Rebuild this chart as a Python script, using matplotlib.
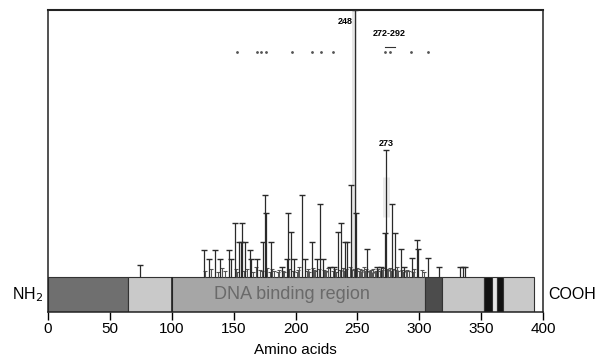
import matplotlib.pyplot as plt

plt.rcParams['font.family'] = ['Liberation Sans', 'DejaVu Sans']

# major mutation peaks: codon and relative height
peak_codons = [74, 126, 130, 135, 139, 146, 148, 151, 154, 156, 157, 159, 163, 164,
               169, 174, 175, 176, 180, 189, 193, 194, 196, 199, 205, 208, 213, 217,
               220, 222, 228, 231, 234, 237, 240, 242, 245, 248, 249, 258, 266, 269,
               272, 273, 278, 280, 285, 288, 294, 298, 299, 307, 316, 333, 335, 337]
peak_heights = [12, 27, 18, 27, 18, 27, 18, 54, 35, 35, 54, 35, 27, 18,
                18, 35, 82, 64, 35, 10, 18, 64, 45, 18, 82, 18, 35, 18,
                73, 18, 10, 10, 45, 54, 35, 35, 92, 267, 64, 28, 10, 10,
                44, 127, 73, 44, 28, 10, 19, 37, 28, 19, 10, 10, 10, 10]

# low-frequency mutations along the core domain
minor_codons = [127, 132, 137, 141, 143, 152, 153, 158, 161, 166, 168, 171, 173, 177,
                179, 181, 183, 186, 187, 190, 191, 195, 198, 201, 202, 203, 209, 210,
                211, 214, 215, 216, 219, 223, 224, 225, 226, 230, 232, 233, 236, 238,
                239, 241, 244, 246, 247, 250, 251, 252, 253, 254, 255, 256, 257, 259,
                260, 261, 262, 263, 264, 265, 267, 268, 270, 271, 274, 275, 276, 277,
                279, 281, 282, 283, 286, 287, 289, 290, 292, 295, 296, 302, 304]
minor_heights = [6, 8, 5, 9, 6, 8, 5, 6, 8, 5, 10, 7, 6, 9,
                 5, 8, 6, 5, 7, 6, 5, 8, 6, 5, 7, 10, 6, 8,
                 5, 9, 7, 6, 8, 7, 5, 6, 9, 6, 8, 5, 7, 9,
                 6, 8, 10, 7, 8, 9, 6, 8, 5, 7, 10, 6, 8, 6,
                 5, 7, 4, 8, 5, 6, 8, 6, 7, 9, 8, 7, 9, 6,
                 8, 7, 10, 6, 7, 5, 6, 7, 6, 5, 8, 7, 5]

# small deletions / insertions row
indel_codons = [153, 169, 172, 176, 197, 213, 221, 230, 272, 276, 293, 307]

# protein domains (start, end in amino acids)
domain_start = [0, 65, 100, 305, 318, 352, 359, 363, 368]
domain_end = [65, 100, 305, 318, 352, 359, 363, 368, 393]
domain_shade = ['#6f6f6f', '#c9c9c9', '#a6a6a6', '#4c4c4c', '#c6c6c6',
                '#111111', '#e6e6e6', '#111111', '#c9c9c9']

xticks = [0, 50, 100, 150, 200, 250, 300, 350, 400]

fig = plt.figure(figsize=(5.97, 3.6), dpi=100)
ax = fig.add_axes([48 / 597, 1 - 312 / 360, 495 / 597, 302 / 360])
ax.set_xlim(0, 400)
ax.set_ylim(-35, 267)

# protein bar
for s, e, c in zip(domain_start, domain_end, domain_shade):
    ax.bar(s, 35, width=e - s, bottom=-35, align='edge', color=c,
           edgecolor='#333333', linewidth=0.8, zorder=2)
ax.vlines(100, -35, 0, color='#222222', lw=1.2, zorder=3)
ax.text(197, -17.5, 'DNA binding region', ha='center', va='center',
        fontsize=13, color='#6a6a6a', zorder=4)

# faint scan glow behind the big peaks
ax.vlines(247, 0, 267, color='#e6e6e6', lw=3.5, zorder=1)
ax.vlines(273, 60, 100, color='#ececec', lw=5, zorder=1)

# mutation spikes
ax.vlines(minor_codons, 0, minor_heights, color='#555555', lw=0.8, zorder=2)
ax.plot(minor_codons, minor_heights, '_', ms=3, mew=0.8, color='#555555', zorder=2)
ax.vlines(peak_codons, 0, peak_heights, color='#2a2a2a', lw=0.9, zorder=3)
ax.plot(peak_codons, peak_heights, '_', ms=4, mew=1.0, color='#2a2a2a', zorder=3)

ax.plot(indel_codons, [225] * len(indel_codons), '.', ms=2, color='#555555')
ax.plot([272, 280], [230, 230], color='#333333', lw=0.8)

ax.text(246, 255, '248', ha='right', va='center', fontsize=6.5, fontweight='bold')
ax.text(276, 244, '272-292', ha='center', va='center', fontsize=6.5, fontweight='bold')
ax.text(273, 134, '273', ha='center', va='center', fontsize=6.5, fontweight='bold')

ax.text(-4, -17.5, 'NH$_2$', ha='right', va='center', fontsize=11.5, clip_on=False)
ax.text(404, -17.5, 'COOH', ha='left', va='center', fontsize=11.5, clip_on=False)

ax.set_xticks(xticks)
ax.set_yticks([])
ax.tick_params(axis='x', direction='out', length=6, width=1, labelsize=11, pad=1)
ax.set_xlabel('Amino acids', fontsize=11, labelpad=5)
for sp in ax.spines.values():
    sp.set_linewidth(1.1)
    sp.set_color('#222222')
ax.spines['top'].set_linewidth(1.5)

fig.savefig('out.png', dpi=100)
